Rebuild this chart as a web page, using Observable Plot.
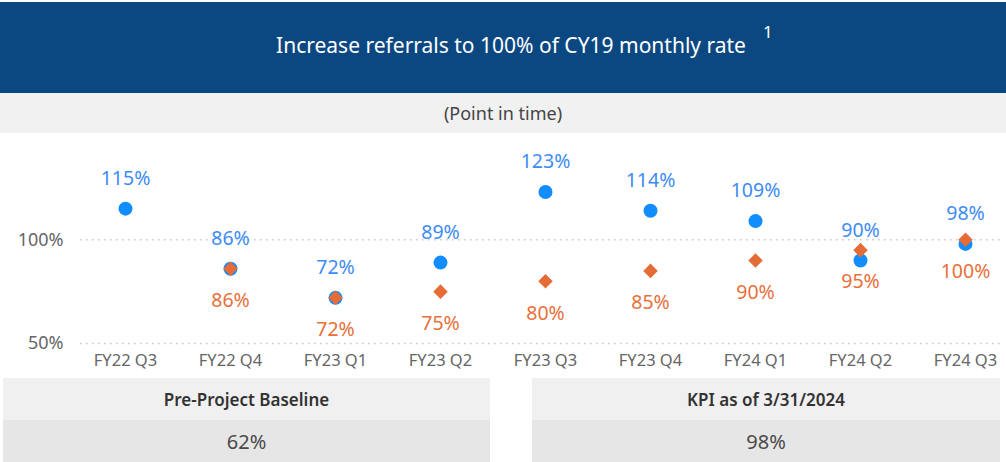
<!DOCTYPE html>
<html>
<head>
<meta charset="utf-8">
<script src="https://cdn.jsdelivr.net/npm/d3@7"></script>
<script src="https://cdn.jsdelivr.net/npm/@observablehq/plot@0.6"></script>
<style>
  html, body { margin: 0; padding: 0; background: #fff; }
  body { width: 1006px; height: 462px; overflow: hidden; font-family: "Segoe UI", "Noto Sans", "Open Sans", sans-serif; }
  .header { position: relative; height: 91px; margin-top: 2px; background: #0b4882; color: #fff; display: flex; align-items: center; justify-content: center; font-size: 21px; }
  .header .title { position: relative; left: 8px; top: -3px; }
  .header sup { position: absolute; left: 763px; top: 18px; font-size: 17px; }
  .sub { height: 40px; background: #f1f1f1; color: #444; font-size: 18px; display: flex; align-items: center; justify-content: center; }
  #chart { height: 242px; }
  .panels { position: relative; height: 87px; }
  .panel { position: absolute; top: 3px; }
  .panel .lab { height: 42px; background: #f0f0f0; color: #333; font-size: 17px; font-weight: 600; display: flex; align-items: center; justify-content: center; }
  .panel .val { height: 42px; background: #e6e6e6; color: #4a4a4a; font-size: 20px; display: flex; align-items: center; justify-content: center; }
</style>
</head>
<body>
<div class="header"><span class="title">Increase referrals to 100% of CY19 monthly rate</span><sup>1</sup></div>
<div class="sub">(Point in time)</div>
<div id="chart"></div>
<div class="panels">
  <div class="panel" style="left:3px;width:487px"><div class="lab" id="lab0"></div><div class="val" id="val0"></div></div>
  <div class="panel" style="left:532px;width:468px"><div class="lab" id="lab1"></div><div class="val" id="val1"></div></div>
</div>
<script>
// Quarterly referral rate as a share of the CY19 monthly rate
const quarters = ["FY22 Q3", "FY22 Q4", "FY23 Q1", "FY23 Q2", "FY23 Q3", "FY23 Q4", "FY24 Q1", "FY24 Q2", "FY24 Q3"];
const actual = [115, 86, 72, 89, 123, 114, 109, 90, 98];
const target = [null, 86, 72, 75, 80, 85, 90, 95, 100];
const yTicks = [50, 100];
const summaryLabels = ["Pre-Project Baseline", "KPI as of 3/31/2024"];
const summaryValues = [62, 98];

const actualRows = quarters.map((q, i) => ({q, v: actual[i]}));
const targetRows = quarters.map((q, i) => ({q, v: target[i]})).filter(d => d.v != null);

const blue = "#118dff";
const orange = "#e66c37";
const pct = d => `${d}%`;

const chart = Plot.plot({
  width: 1006,
  height: 242,
  marginLeft: 80,
  marginRight: 4,
  marginTop: 44,
  marginBottom: 32,
  style: {fontFamily: "'Segoe UI', 'Noto Sans', 'Open Sans', sans-serif", fontSize: "16.5px", color: "#666", background: "transparent"},
  x: {type: "point", domain: quarters, range: [123, 966], padding: 0, label: null, tickSize: 0, tickPadding: 11},
  y: {domain: [50, 130], ticks: yTicks, tickFormat: pct, label: null, tickSize: 0, tickPadding: 17},
  marks: [
    Plot.ruleY(yTicks, {stroke: "#c8c8c8", strokeWidth: 1.5, strokeDasharray: "1.5,4.5"}),
    Plot.axisY({ticks: yTicks, tickFormat: pct, tickSize: 0, tickPadding: 17, fontSize: 18, label: null}),
    Plot.axisX({tickSize: 0, tickPadding: 11, label: null}),
    Plot.dot(actualRows, {x: "q", y: "v", r: 7, fill: blue}),
    // filled square turned 45° gives the diamond marker
    Plot.dot(targetRows, {x: "q", y: "v", symbol: "square", r: 5.8, rotate: 45, fill: orange}),
    Plot.text(actualRows, {x: "q", y: "v", text: d => pct(d.v), dy: -30, fill: "#3d8cf5", fontSize: 19.5}),
    Plot.text(targetRows, {x: "q", y: "v", text: d => pct(d.v), dy: 32, fill: "#e8703a", fontSize: 19.5})
  ]
});
document.getElementById("chart").append(chart);

summaryLabels.forEach((t, i) => {
  document.getElementById("lab" + i).textContent = t;
  document.getElementById("val" + i).textContent = pct(summaryValues[i]);
});
</script>
</body>
</html>
